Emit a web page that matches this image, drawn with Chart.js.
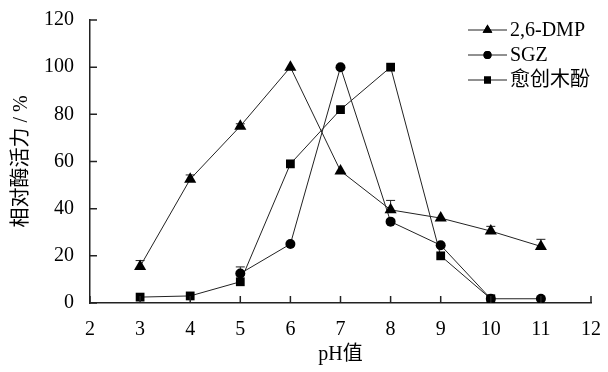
<!DOCTYPE html>
<html lang="zh">
<head>
<meta charset="UTF-8" />
<title>pH 对酶活力的影响</title>
<script src="https://cdn.jsdelivr.net/npm/chart.js"></script>
<style>
  html, body { margin: 0; padding: 0; background: #fff; }
  #wrap { width: 608px; height: 372px; }
</style>
</head>
<body>
<div id="wrap"><canvas id="chart" width="608" height="372"></canvas></div>
<script>
  const phValues = [3, 4, 5, 6, 7, 8, 9, 10, 11];
  const dmpValues = [15.5, 52.5, 75, 100, 56, 39.5, 36, 30.5, 24];
  const dmpErr = [2.5, 1.8, 1, 0, 0, 4, 0, 2, 3];
  const sgzValues = [null, null, 12.5, 25, 100, 34.5, 24.5, 1.8, 1.8];
  const sgzErr = [0, 0, 2.8, 0, 0, 0, 0, 0, 0];
  const guaValues = [2.5, 3, 9, 59, 82, 100, 20, 1.8, null];
  const guaErr = [0, 0, 0, 0, 0, 0, 0, 0, 0];
  const seriesNames = ['2,6-DMP', 'SGZ', '愈创木酚'];
  const xTicks = [2, 3, 4, 5, 6, 7, 8, 9, 10, 11, 12];
  const yTicks = [0, 20, 40, 60, 80, 100, 120];

  const FONT = '"Times New Roman", "Liberation Serif", "Noto Sans CJK SC", serif';
  const INK = '#000';

  function pts(vals) {
    return phValues.map((x, i) => ({ x: x, y: vals[i] })).filter(p => p.y !== null);
  }

  const styles = [
    { pointStyle: 'triangle', radius: 7 },
    { pointStyle: 'circle', radius: 5 },
    { pointStyle: 'rect', radius: 6.2 }
  ];

  // error bars (upper side only, like the source figure)
  const errorBars = {
    id: 'errorBars',
    beforeDatasetsDraw(chart) {
      const ctx = chart.ctx;
      const ys = chart.scales.y, xs = chart.scales.x;
      const errs = [dmpErr, sgzErr, guaErr];
      const vals = [dmpValues, sgzValues, guaValues];
      ctx.save();
      ctx.strokeStyle = '#222';
      ctx.lineWidth = 1;
      errs.forEach((err, d) => {
        phValues.forEach((x, i) => {
          if (!err[i] || vals[d][i] === null) return;
          const px = xs.getPixelForValue(x);
          const p0 = ys.getPixelForValue(vals[d][i]);
          const p1 = ys.getPixelForValue(vals[d][i] + err[i]);
          ctx.beginPath();
          ctx.moveTo(px, p0);
          ctx.lineTo(px, p1);
          ctx.moveTo(px - 4.5, p1);
          ctx.lineTo(px + 4.5, p1);
          ctx.stroke();
        });
      });
      ctx.restore();
    }
  };

  // inward ticks, axis titles and legend
  const decorations = {
    id: 'decorations',
    afterDraw(chart) {
      const ctx = chart.ctx;
      const xs = chart.scales.x, ys = chart.scales.y;
      const area = chart.chartArea;
      ctx.save();
      ctx.strokeStyle = '#222';
      ctx.lineWidth = 1.5;
      ctx.beginPath();
      xTicks.forEach(v => {
        const px = xs.getPixelForValue(v);
        ctx.moveTo(px, area.bottom);
        ctx.lineTo(px, area.bottom - 7);
      });
      yTicks.forEach(v => {
        const py = ys.getPixelForValue(v);
        ctx.moveTo(area.left, py);
        ctx.lineTo(area.left + 7, py);
      });
      ctx.stroke();

      ctx.fillStyle = INK;
      ctx.font = '20px ' + FONT;
      ctx.textAlign = 'center';
      ctx.textBaseline = 'middle';
      ctx.fillText('pH值', (area.left + area.right) / 2, 355);

      ctx.save();
      ctx.translate(22, (area.top + area.bottom) / 2);
      ctx.rotate(-Math.PI / 2);
      ctx.fillText('相对酶活力 / %', 0, 0);
      ctx.restore();

      const rows = [30, 55, 80];
      ctx.textAlign = 'left';
      seriesNames.forEach((name, i) => {
        const y = rows[i];
        ctx.strokeStyle = '#222';
        ctx.lineWidth = 1;
        ctx.beginPath();
        ctx.moveTo(468, y);
        ctx.lineTo(507, y);
        ctx.stroke();
        ctx.fillStyle = INK;
        Chart.helpers.drawPoint(ctx, {
          pointStyle: styles[i].pointStyle,
          radius: styles[i].radius * 0.8,
          rotation: 0,
          borderWidth: 0
        }, 487.5, y);
        ctx.fill();
        ctx.fillStyle = INK;
        ctx.fillText(name, 510, y + 1);
      });
      ctx.restore();
    }
  };

  const datasets = [dmpValues, sgzValues, guaValues].map((vals, i) => ({
    label: seriesNames[i],
    data: pts(vals),
    borderColor: '#222',
    borderWidth: 1,
    backgroundColor: INK,
    pointBackgroundColor: INK,
    pointBorderColor: INK,
    pointBorderWidth: 0,
    pointStyle: styles[i].pointStyle,
    pointRadius: styles[i].radius,
    tension: 0
  }));

  new Chart(document.getElementById('chart'), {
    type: 'line',
    data: { datasets: datasets },
    options: {
      responsive: false,
      animation: false,
      layout: { padding: { top: 18, right: 11, left: 0, bottom: 0 } },
      plugins: { legend: { display: false }, tooltip: { enabled: false } },
      scales: {
        x: {
          type: 'linear',
          min: 2, max: 12,
          afterFit(scale) { scale.height = 69; },
          afterBuildTicks(scale) { scale.ticks = xTicks.map(v => ({ value: v })); },
          grid: { display: false },
          border: { display: true, color: '#222', width: 1.5 },
          ticks: { color: INK, padding: 7, font: { family: FONT, size: 20 } }
        },
        y: {
          min: 0, max: 120,
          afterFit(scale) { scale.width = 90; },
          afterBuildTicks(scale) { scale.ticks = yTicks.map(v => ({ value: v })); },
          grid: { display: false },
          border: { display: true, color: '#222', width: 1.5 },
          ticks: { color: INK, padding: 8, font: { family: FONT, size: 20 } }
        }
      }
    },
    plugins: [errorBars, decorations]
  });
</script>
</body>
</html>
